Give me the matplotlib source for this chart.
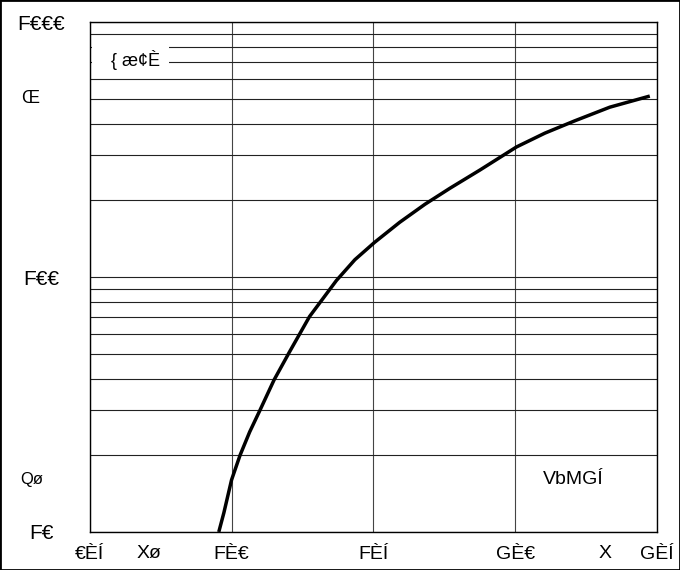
import numpy as np
import matplotlib.pyplot as plt
from matplotlib.patches import Rectangle
from matplotlib.ticker import LogLocator, NullFormatter
import matplotlib.transforms as mtransforms

plt.rcParams['font.family'] = ['Liberation Sans', 'DejaVu Sans']

# curve (x linear, y on log scale)
curve_x = [0.955, 0.973, 1.0, 1.03, 1.064, 1.10, 1.15, 1.205, 1.275, 1.37, 1.435,
           1.505, 1.593, 1.682, 1.77, 1.876, 2.005, 2.105, 2.21, 2.334, 2.475]
curve_y = [10, 11.9, 16.0, 20.0, 24.7, 30, 39.5, 51, 70, 97, 117,
           137, 164, 193, 223, 263, 324, 367, 410, 464, 513]

x_ticks = [0.5, 1.0, 1.5, 2.0, 2.5]
x_labels = ['€ÈÍ', 'FÈ€', 'FÈÍ', 'GÈ€', 'GÈÍ']
y_ticks = [10, 100, 1000]
y_labels = ['F€', 'F€€', 'F€€€']

fig = plt.figure(figsize=(6.8, 5.7), dpi=100)
ax = fig.add_axes([0.132, 0.0667, 0.834, 0.8944])

ax.plot(curve_x, curve_y, color='black', lw=2.5, solid_capstyle='butt', zorder=3)

ax.set_yscale('log')
ax.set_xlim(0.5, 2.5)
ax.set_ylim(10, 1000)
ax.yaxis.set_minor_locator(LogLocator(base=10, subs=np.arange(2, 10)))
ax.yaxis.set_minor_formatter(NullFormatter())
ax.grid(True, which='both', axis='y', color='#222222', lw=0.8)
ax.grid(True, which='major', axis='x', color='#444444', lw=0.8)

ax.set_xticks(x_ticks)
ax.set_xticklabels(x_labels, fontsize=14)
ax.set_yticks(y_ticks)
ax.set_yticklabels(y_labels, fontsize=15, ha='center')
ax.tick_params(axis='both', which='both', length=0)
ax.tick_params(axis='y', pad=35)
ax.tick_params(axis='x', pad=10)
for s in ax.spines.values():
    s.set_linewidth(1.0)

# extra axis labels
ty = mtransforms.blended_transform_factory(fig.transFigure, ax.transData)
ax.text(0.044, 500, 'Œ', transform=ty, fontsize=13, ha='center', va='center')
ax.text(0.046, 16.0, 'Qø', transform=ty, fontsize=12, ha='center', va='center')
tx = mtransforms.blended_transform_factory(ax.transData, fig.transFigure)
ax.text(0.71, 0.029, 'Xø', transform=tx, fontsize=14, ha='center', va='center')
ax.text(2.317, 0.029, 'X', transform=tx, fontsize=14, ha='center', va='center')

ax.text(0.522, 710, '   { æ¢È ', fontsize=13, ha='left', va='center',
        bbox=dict(facecolor='white', edgecolor='none', pad=3))
ax.text(2.098, 16.0, 'VbMGÍ', fontsize=14, ha='left', va='center')

fig.patches.append(Rectangle((0, 0), 1, 1, transform=fig.transFigure,
                             fill=False, edgecolor='black', lw=2))

fig.savefig('out.png', dpi=100)
